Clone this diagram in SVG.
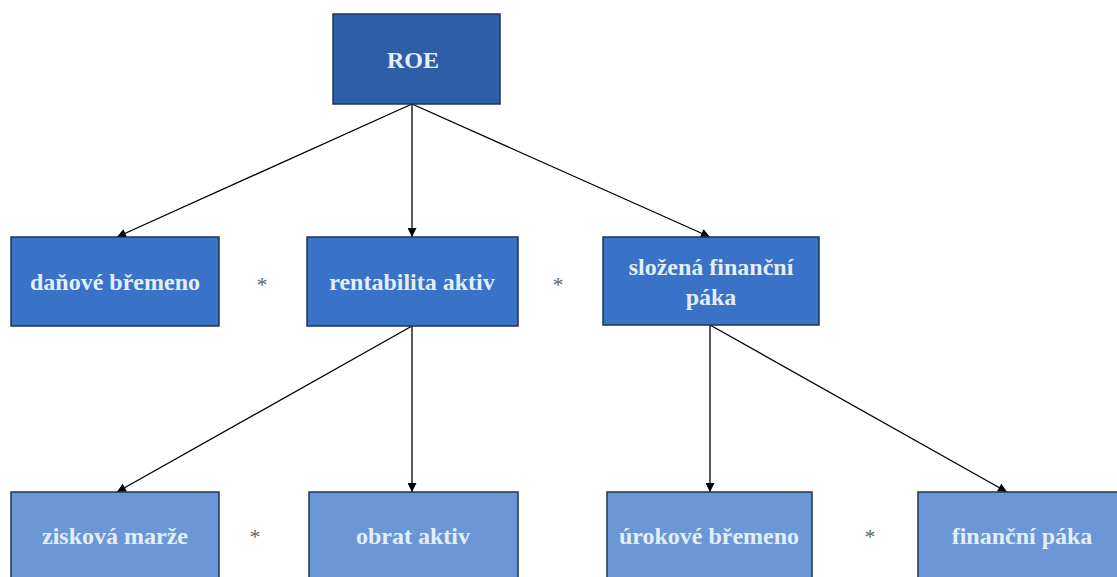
<svg xmlns="http://www.w3.org/2000/svg" width="1117" height="577" viewBox="0 0 1117 577">
<defs>
<marker id="ah" viewBox="0 0 10 10" refX="10" refY="5" markerWidth="10" markerHeight="9" orient="auto" markerUnits="userSpaceOnUse">
<path d="M0,0 L10,5 L0,10 z" fill="#000"/>
</marker>
<style>
.box{stroke:#1f3550;stroke-width:1.5}
.l1{fill:#2f5ea8}
.l2{fill:#3a72c8}
.l3{fill:#6b97d6}
.t{font-family:"Liberation Serif",serif;font-weight:bold;font-size:24px;fill:#e2eff8;text-anchor:middle}
.ast{font-family:"Liberation Serif",serif;font-size:22px;fill:#666;text-anchor:middle}
.c line{stroke:#000;stroke-width:1.3;marker-end:url(#ah)}
</style>
</defs>
<rect width="1117" height="577" fill="#fff"/>
<g class="c" id="connectors">
<line x1="412" y1="104" x2="117" y2="237"/>
<line x1="412" y1="104" x2="412" y2="237"/>
<line x1="412" y1="104" x2="710" y2="237"/>
<line x1="412" y1="326" x2="117" y2="492"/>
<line x1="412" y1="326" x2="412" y2="492"/>
<line x1="710" y1="325" x2="710" y2="492"/>
<line x1="710" y1="325" x2="1007" y2="492"/>
</g>
<g id="roe"><rect class="box l1" x="333" y="14" width="167" height="90"/><text class="t" x="413" y="68">ROE</text></g>
<g id="danove"><rect class="box l2" x="11" y="237" width="208" height="89"/><text class="t" x="115" y="290">daňové břemeno</text></g>
<g id="rentabilita"><rect class="box l2" x="307" y="237" width="211" height="89"/><text class="t" x="412" y="290">rentabilita aktiv</text></g>
<g id="slozena"><rect class="box l2" x="603" y="237" width="216" height="88"/><text class="t" x="711" y="275">složená finanční</text><text class="t" x="711" y="305">páka</text></g>
<g id="ziskova"><rect class="box l3" x="11" y="492" width="208" height="95"/><text class="t" x="115" y="544">zisková marže</text></g>
<g id="obrat"><rect class="box l3" x="309" y="492" width="209" height="95"/><text class="t" x="413" y="544">obrat aktiv</text></g>
<g id="urokove"><rect class="box l3" x="607" y="492" width="205" height="95"/><text class="t" x="709" y="544">úrokové břemeno</text></g>
<g id="financni"><rect class="box l3" x="918" y="492" width="210" height="95"/><text class="t" x="1022" y="544">finanční páka</text></g>
<g id="asterisks">
<text class="ast" x="262" y="292">*</text>
<text class="ast" x="558" y="292">*</text>
<text class="ast" x="255" y="544">*</text>
<text class="ast" x="870" y="544">*</text>
</g>
</svg>
